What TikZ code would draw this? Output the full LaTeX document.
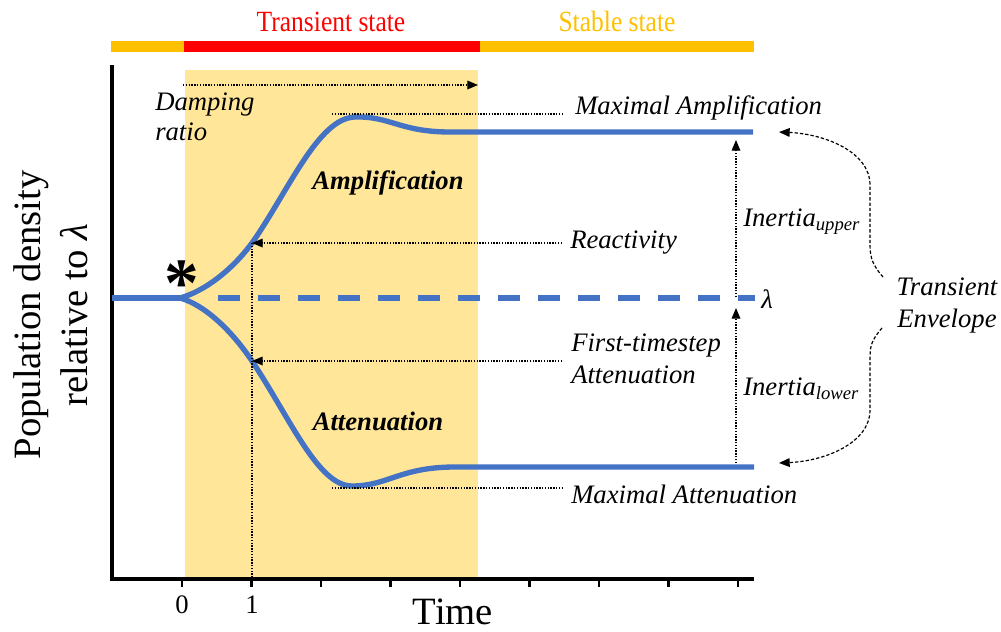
\documentclass[tikz,border=0pt]{standalone}
\usepackage{fontspec}
\setmainfont{Liberation Serif}
\usetikzlibrary{arrows.meta}
\definecolor{curveblue}{HTML}{4472C4}
\definecolor{stablegold}{HTML}{FFC000}
\definecolor{transred}{HTML}{FF0000}
\definecolor{shadegold}{HTML}{FFE699}

\begin{document}
\begin{tikzpicture}[x=0.75pt,y=-0.75pt,
  lbl/.style={font=\fontsize{20}{24}\selectfont\itshape, inner sep=0pt, anchor=west},
  boldlbl/.style={font=\fontsize{20}{24}\selectfont\bfseries\itshape, inner sep=0pt},
  axlbl/.style={font=\fontsize{29}{35}\selectfont, inner sep=0pt},
  ticklbl/.style={font=\fontsize{20}{24}\selectfont, inner sep=0pt},
  statelbl/.style={font=\fontsize{22}{24}\selectfont, inner sep=0pt},
  guide/.style={line width=0.9pt, dash pattern=on 1pt off 1.1pt},
  guidearrow/.style={guide, -{Triangle[length=8pt,width=6.5pt]}},
  envarrow/.style={line width=0.9pt, dash pattern=on 2.5pt off 1.5pt, -{Triangle[length=8pt,width=6.5pt]}},
  popcurve/.style={curveblue, line width=4pt},
  axisline/.style={line width=3pt, line cap=rect},
  tickmark/.style={line width=2.2pt},
  bar/.style={line width=8.25pt}
]
\useasboundingbox (0,0) rectangle (1001,632);

% transient period shading
\fill[shadegold] (185,70) rectangle (478,577);

% state bar on top
\draw[bar, stablegold] (111,46) -- (185,46);
\draw[bar, transred] (184,46) -- (480,46);
\draw[bar, stablegold] (480,46) -- (754,46);
\node[statelbl, text=transred] (transient) at (331,22) {\scalebox{0.87}[1]{Transient state}};
\node[statelbl, text=stablegold] (stable) at (617,21) {\scalebox{0.87}[1]{Stable state}};

% axes
\draw[axisline] (112,67) -- (112,579) -- (752,579);
\foreach \i in {0,...,8} {
  \draw[tickmark] ({182+69.5*\i},579) -- ({182+69.5*\i},587);
}
\node[ticklbl] (t0) at (182,605) {0};
\node[ticklbl] (t1) at (252,605) {1};
\node[axlbl] (timelbl) at (453,612) {Time};
\node[axlbl, rotate=90, align=center] (ylbl) at (51,315)
  {Population density\\relative to \textit{λ}};

% population trajectories
\draw[popcurve] (112,298) -- (180,298);
\draw[popcurve] (180,298) .. controls (205,291) and (232,270) .. (252,243)
  .. controls (288,192) and (318,118) .. (355,117)
  .. controls (390,116) and (400,132) .. (450,132) -- (753,132);
\draw[popcurve] (180,298) .. controls (205,305) and (232,331) .. (252,361)
  .. controls (290,418) and (318,486) .. (352,486)
  .. controls (388,486) and (400,467) .. (455,467) -- (754,467);
\draw[curveblue, line width=4.5pt, dash pattern=on 16.5pt off 13.5pt] (218,298) -- (755,298);

\node[font=\fontsize{52}{52}\selectfont\bfseries, inner sep=0pt, anchor=base] (start) at (182,306) {*};
\node[font=\fontsize{20}{24}\selectfont\itshape, inner sep=0pt, anchor=west] (lam) at (761,299) {λ};

% named points on the guides
\coordinate (r1) at (252,243);
\coordinate (rStart) at (562,243);
\coordinate (a1) at (252,361);
\coordinate (aStart) at (562,361);
\coordinate (axis1) at (252,578);
\coordinate (dstart) at (183,85);
\coordinate (dend) at (478,85);
\coordinate (peak) at (332,114);
\coordinate (peakEnd) at (562,114);
\coordinate (trough) at (332,488);
\coordinate (troughEnd) at (562,488);
\coordinate (iuBase) at (736,297);
\coordinate (iuTip) at (736,140);
\coordinate (ilBase) at (736,463);
\coordinate (ilTip) at (736,308);

% labels
\node[lbl, align=left, font=\fontsize{20}{22.5}\selectfont\itshape] (damp) at (155,117) {Damping\\ratio};
\node[lbl] (maxamp) at (575,108) {Maximal Amplification};
\node[lbl] (react) at (570,243) {Reactivity};
\node[lbl, align=left] (firstatt) at (571,359) {First-timestep\\Attenuation};
\node[lbl] (maxatt) at (571,494) {Maximal Attenuation};
\node[lbl] (iup) at (743,222) {Inertia\textsubscript{upper}};
\node[lbl] (ilow) at (743,389) {Inertia\textsubscript{lower}};
\node[lbl, anchor=center, align=center] (env) at (947,306) {Transient\\Envelope};
\node[boldlbl] (amp) at (388,183) {Amplification};
\node[boldlbl] (att) at (378,421) {Attenuation};

% guide lines and arrows
\draw[guidearrow] (dstart) -- (dend);
\draw[guide] (peak) -- (peakEnd);
\draw[guidearrow] (rStart) -- (r1);
\draw[guidearrow] (aStart) -- (a1);
\draw[guide] (trough) -- (troughEnd);
\draw[guide] (r1) -- (axis1);
\draw[guidearrow] (iuBase) -- (iuTip);
\draw[guidearrow] (ilBase) -- (ilTip);

% envelope arrows
\coordinate (envU) at (883,277);
\coordinate (envL) at (882,328);
\coordinate (topEnd) at (779,132);
\coordinate (lowEnd) at (779,463);
\draw[envarrow] (envU) .. controls (870,262) and (870,255) .. (870,240) -- (870,185)
  .. controls (870,152) and (825,134) .. (topEnd);
\draw[envarrow] (envL) .. controls (870,342) and (870,347) .. (870,362) -- (870,410)
  .. controls (870,443) and (825,461) .. (lowEnd);
\end{tikzpicture}
\end{document}
